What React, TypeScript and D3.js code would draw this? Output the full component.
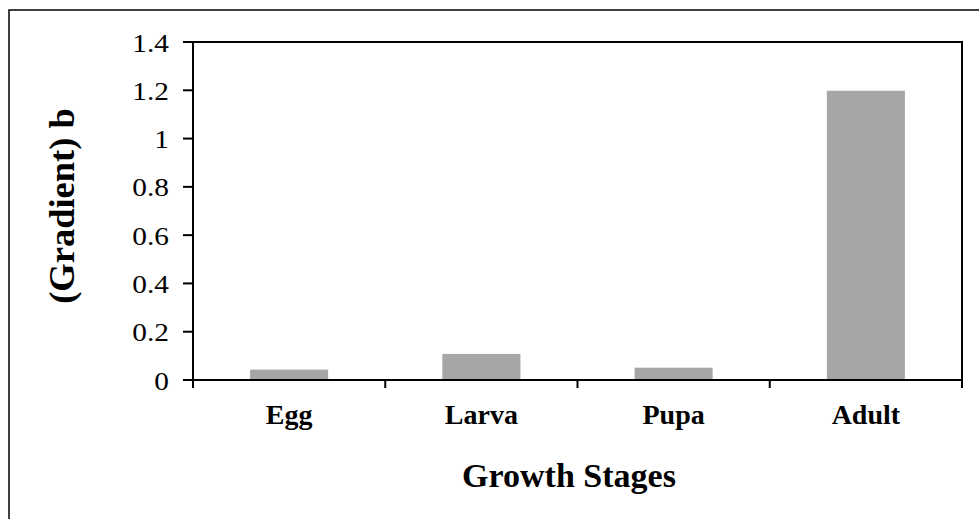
import React from "react";
import * as d3 from "d3";

const categories = ["Egg", "Larva", "Pupa", "Adult"];
const values = [0.043, 0.108, 0.051, 1.198];
const yTicks = [0, 0.2, 0.4, 0.6, 0.8, 1, 1.2, 1.4];

const W = 979;
const H = 519;
const M = { left: 193, right: 962, top: 42, bottom: 380 };

export default function App() {
  const x = d3
    .scaleBand<string>()
    .domain(categories)
    .range([M.left, M.right])
    .paddingInner(0.594)
    .paddingOuter(0.297);
  const y = d3.scaleLinear().domain([0, 1.4]).range([M.bottom, M.top]);
  const step = (M.right - M.left) / categories.length;
  const boundaries = d3.range(categories.length + 1).map((i) => M.left + i * step);
  const fmt = (v: number) => String(+v.toFixed(1));

  return (
    <svg
      width={W}
      height={H}
      style={{ position: "absolute", left: 0, top: 0, background: "#fff" }}
      fontFamily="'Liberation Serif', 'Times New Roman', serif"
    >
      <rect x={9} y={10} width={1100} height={700} fill="#fff" stroke="#000" strokeWidth={1.5} />
      {categories.map((c, i) => (
        <rect
          key={c}
          x={x(c)}
          y={y(values[i])}
          width={x.bandwidth()}
          height={y(0) - y(values[i])}
          fill="#a6a6a6"
        />
      ))}
      <path
        d={`M${M.left},${M.bottom}V${M.top}H${M.right}V${M.bottom + 8}`}
        fill="none"
        stroke="#000"
        strokeWidth={2}
      />
      <line x1={M.left} x2={M.right} y1={y(0)} y2={y(0)} stroke="#000" strokeWidth={2} />
      {yTicks.map((t) => (
        <g key={t}>
          <line x1={M.left - 10} x2={M.left} y1={y(t)} y2={y(t)} stroke="#000" strokeWidth={2} />
          <text
            x={0}
            y={0}
            transform={`translate(169,${y(t) + 9.5}) scale(1.15,1)`}
            textAnchor="end"
            fontSize={25.5}
            fill="#000"
          >
            {fmt(t)}
          </text>
        </g>
      ))}
      {boundaries.map((b, i) => (
        <line key={i} x1={b} x2={b} y1={M.bottom} y2={M.bottom + 8} stroke="#000" strokeWidth={2} />
      ))}
      {categories.map((c) => (
        <text
          key={c}
          x={(x(c) as number) + x.bandwidth() / 2}
          y={424}
          textAnchor="middle"
          fontSize={28}
          fontWeight="bold"
          fill="#000"
        >
          {c}
        </text>
      ))}
      <text x={569} y={487} textAnchor="middle" fontSize={34} fontWeight="bold" fill="#000">
        Growth Stages
      </text>
      <text
        transform="translate(74,206) rotate(-90)"
        textAnchor="middle"
        fontSize={36.5}
        fontWeight="bold"
        fill="#000"
      >
        (Gradient) b
      </text>
    </svg>
  );
}
